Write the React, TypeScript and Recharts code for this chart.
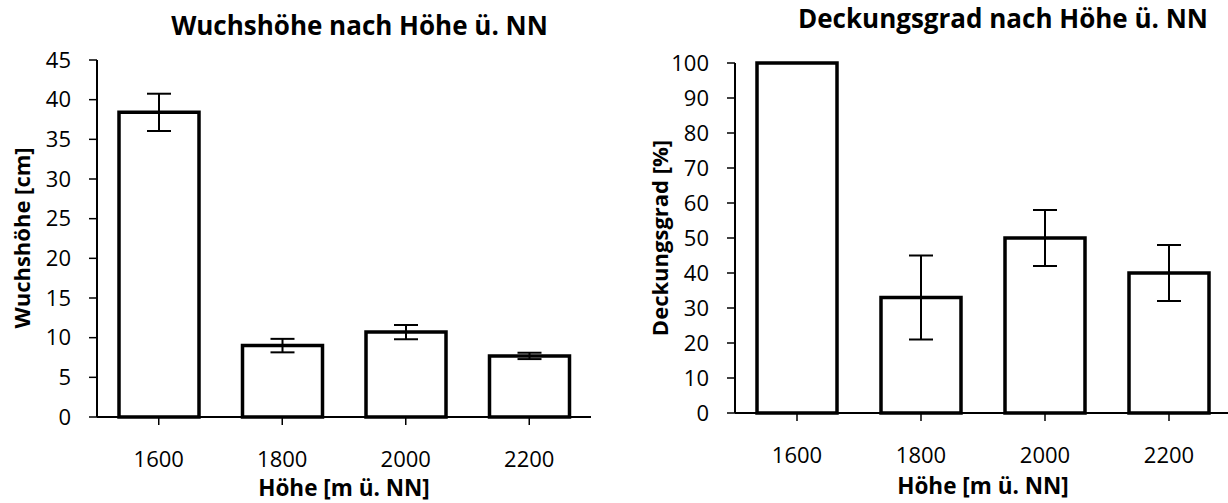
import { BarChart, Bar, XAxis, YAxis, ErrorBar } from 'recharts';

const hoehen = ['1600', '1800', '2000', '2200'];
const wuchshoehe = [38.4, 9.0, 10.7, 7.7];
const wuchshoeheFehler = [2.35, 0.85, 0.9, 0.4];
const deckungsgrad = [100, 33, 50, 40];
const deckungsgradFehler = [0, 12, 8, 8];
const wuchsTicks = [0, 5, 10, 15, 20, 25, 30, 35, 40, 45];
const deckTicks = [0, 10, 20, 30, 40, 50, 60, 70, 80, 90, 100];

const FONT = '"Open Sans", sans-serif';

const wuchsData = hoehen.map((h, i) => ({ hoehe: h, wert: wuchshoehe[i], fehler: wuchshoeheFehler[i] }));
const deckData = hoehen.map((h, i) => ({ hoehe: h, wert: deckungsgrad[i], fehler: deckungsgradFehler[i] }));

const tickStyle = { fill: '#000', fontSize: 22, fontFamily: FONT };
const axisLine = { stroke: '#000', strokeWidth: 2 };
const tickLine = { stroke: '#000', strokeWidth: 1.5 };

function Panel({ data, ticks, max, margin }: { data: any[]; ticks: number[]; max: number; margin: any }) {
  return (
    <BarChart width={640} height={503} data={data} margin={margin}>
      <XAxis
        dataKey="hoehe"
        axisLine={axisLine}
        tickLine={tickLine}
        tick={tickStyle}
        tickSize={8}
        tickMargin={26}
        height={60}
        interval={0}
      />
      <YAxis
        domain={[0, max]}
        ticks={ticks}
        axisLine={axisLine}
        tickLine={tickLine}
        tick={tickStyle}
        tickSize={8}
        tickMargin={18}
        width={60}
        interval={0}
      />
      <Bar dataKey="wert" fill="#fff" stroke="#000" strokeWidth={3.5} barSize={80} isAnimationActive={false}>
        <ErrorBar dataKey="fehler" width={12} strokeWidth={2} stroke="#000" isAnimationActive={false} />
      </Bar>
    </BarChart>
  );
}

export default function App() {
  return (
    <div style={{ position: 'absolute', left: 0, top: 0, width: 1228, height: 503, overflow: 'hidden', background: '#fff' }}>
      <div style={{ position: 'absolute', left: 0, top: 0 }}>
        <Panel data={wuchsData} ticks={wuchsTicks} max={45} margin={{ top: 60, right: 49, left: 37, bottom: 26 }} />
      </div>
      <div style={{ position: 'absolute', left: 614, top: 0 }}>
        <Panel data={deckData} ticks={deckTicks} max={100} margin={{ top: 63, right: 23, left: 61, bottom: 30 }} />
      </div>
      <svg width={1228} height={503} style={{ position: 'absolute', left: 0, top: 0, pointerEvents: 'none' }}>
        <g fontFamily={FONT} fontWeight="bold" fill="#000" textAnchor="middle">
          <text x={359.5} y={35} fontSize={26}>Wuchshöhe nach Höhe ü. NN</text>
          <text x={1003} y={28} fontSize={26}>Deckungsgrad nach Höhe ü. NN</text>
          <text x={344} y={496} fontSize={22.5}>Höhe [m ü. NN]</text>
          <text x={983} y={494} fontSize={22.5}>Höhe [m ü. NN]</text>
          <text x={30} y={238} fontSize={22} transform="rotate(-90 30 238)">Wuchshöhe [cm]</text>
          <text x={668} y={238} fontSize={22} transform="rotate(-90 668 238)">Deckungsgrad [%]</text>
        </g>
      </svg>
    </div>
  );
}
